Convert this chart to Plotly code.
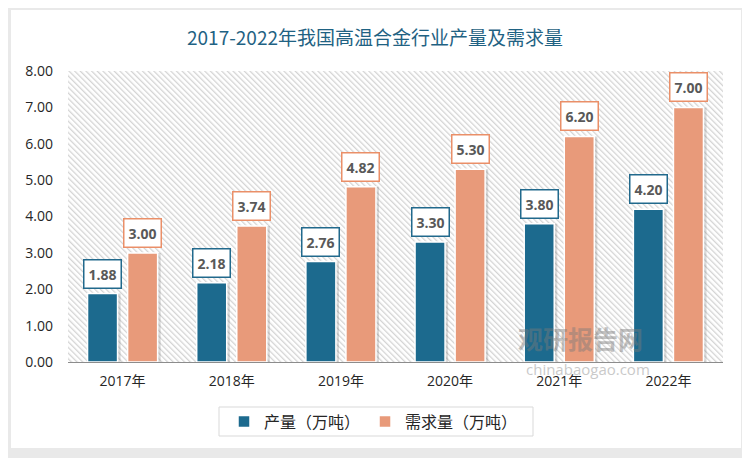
import base64
import plotly.graph_objects as go

years = ["2017年", "2018年", "2019年", "2020年", "2021年", "2022年"]
production = [1.88, 2.18, 2.76, 3.30, 3.80, 4.20]
demand = [3.00, 3.74, 4.82, 5.30, 6.20, 7.00]
series_names = ["产量（万吨）", "需求量（万吨）"]
title_text = "2017-2022年我国高温合金行业产量及需求量"

BLUE = "#1c6a8e"
ORANGE = "#e89a7a"
BLUE_BORDER = "#21698c"
ORANGE_BORDER = "#ea8f68"

# figure is drawn inside an 8px body margin -> size the figure to fit the window
OFF = 8
W, H = 742, 450
L, T = 68 - OFF, 71 - OFF
PR, PB = 723 - OFF, 362 - OFF          # plot right / bottom in figure px
R, B = W - PR, H - PB
PW, PH = PR - L, PB - T

BAR_W = 0.275
OFF_BLUE = -0.321
OFF_ORANGE = 0.046
SHADOW_DX = 0.028

svg = (
    f"<svg xmlns='http://www.w3.org/2000/svg' width='{PW}' height='{PH}'>"
    "<defs><pattern id='p' width='4' height='4' patternUnits='userSpaceOnUse' "
    "patternTransform='rotate(-45)'><rect width='1.3' height='4' fill='#d4d4d4'/></pattern></defs>"
    "<rect width='100%' height='100%' fill='#ffffff'/>"
    "<rect width='100%' height='100%' fill='url(#p)'/></svg>"
)
hatch_src = "data:image/svg+xml;base64," + base64.b64encode(svg.encode()).decode()


def px2x(px):
    return (px - OFF - L) / PW


def px2y(py):
    return (PB - (py - OFF)) / PH


fig = go.Figure()
# soft shadows behind bars
for vals, off in ((production, OFF_BLUE), (demand, OFF_ORANGE)):
    fig.add_trace(go.Bar(x=years, y=vals, width=BAR_W, offset=off + SHADOW_DX,
                         marker=dict(color="rgba(90,90,90,0.22)", line=dict(width=0)),
                         showlegend=False, hoverinfo="skip"))
fig.add_trace(go.Bar(x=years, y=production, name=series_names[0], width=BAR_W, offset=OFF_BLUE,
                     marker=dict(color=BLUE, line=dict(color="white", width=1.5))))
fig.add_trace(go.Bar(x=years, y=demand, name=series_names[1], width=BAR_W, offset=OFF_ORANGE,
                     marker=dict(color=ORANGE, line=dict(color="white", width=1.5))))

annotations = []
for i in range(len(years)):
    for vals, off, bc in ((production, OFF_BLUE, BLUE_BORDER), (demand, OFF_ORANGE, ORANGE_BORDER)):
        annotations.append(dict(
            x=i + off + BAR_W / 2, y=vals[i], xref="x", yref="y", text=f"<b>{vals[i]:.2f}</b>",
            showarrow=False, yanchor="bottom", yshift=5,
            bgcolor="white", bordercolor=bc, borderwidth=1.5, borderpad=4,
            font=dict(family="Open Sans, Noto Sans CJK SC", size=14, color="#595959"),
        ))

# watermark
annotations.append(dict(x=px2x(645), y=px2y(358), xref="paper", yref="paper",
                        text="<b>观研报告网</b>", showarrow=False, opacity=0.45,
                        font=dict(family="Noto Sans CJK SC", size=25, color="#7a7a7a")))
annotations.append(dict(x=px2x(652), y=px2y(381), xref="paper", yref="paper",
                        text="chinabaogao.com", showarrow=False, opacity=0.4,
                        font=dict(family="Open Sans", size=15, color="#7a7a7a")))

shapes = []
# outer shadow frame around the white card
frame = [(OFF, OFF, 11, 458), (741, OFF, 750, 458), (OFF, OFF, 750, 10), (OFF, 448, 750, 458)]
for x0, y0, x1, y1 in frame:
    shapes.append(dict(type="rect", xref="paper", yref="paper", x0=px2x(x0), x1=px2x(x1),
                       y0=px2y(y1), y1=px2y(y0), fillcolor="#e9e9e9", line=dict(width=0),
                       layer="above"))
# legend box
shapes.append(dict(type="rect", xref="paper", yref="paper", x0=px2x(219), x1=px2x(533),
                   y0=px2y(436), y1=px2y(407), fillcolor="white",
                   line=dict(color="#d9d9d9", width=1), layer="below"))

fig.update_layout(
    width=W, height=H,
    margin=dict(l=L, r=R, t=T, b=B, pad=0),
    paper_bgcolor="white", plot_bgcolor="white",
    barmode="overlay",
    title=dict(text=title_text, x=px2x(375), xref="paper", xanchor="center",
               y=1 - (38 - OFF) / H, yref="container", yanchor="middle",
               font=dict(family="Noto Sans CJK SC", size=19, color="#1f6283")),
    font=dict(family="Open Sans, Noto Sans CJK SC", size=14, color="#262626"),
    xaxis=dict(showline=True, linecolor="#8c8c8c", linewidth=1, ticks="",
               showgrid=False, tickfont=dict(size=14, color="#262626"),
               ticklabelstandoff=6),
    yaxis=dict(range=[0, 8], dtick=1, tickformat=".2f", showgrid=False, zeroline=False,
               showline=False, ticks="", ticklabelstandoff=14,
               tickfont=dict(size=14, color="#262626")),
    legend=dict(orientation="h", x=px2x(224), xanchor="left",
                y=px2y(421.5), yanchor="middle",
                borderwidth=0, bgcolor="rgba(0,0,0,0)",
                font=dict(family="Noto Sans CJK SC", size=16, color="#262626"),
                itemwidth=30, traceorder="normal"),
    annotations=annotations,
    shapes=shapes,
    images=[dict(source=hatch_src, xref="paper", yref="paper", x=0, y=1, sizex=1, sizey=1,
                 xanchor="left", yanchor="top", sizing="stretch", layer="below")],
)

fig.write_html("out.html")
